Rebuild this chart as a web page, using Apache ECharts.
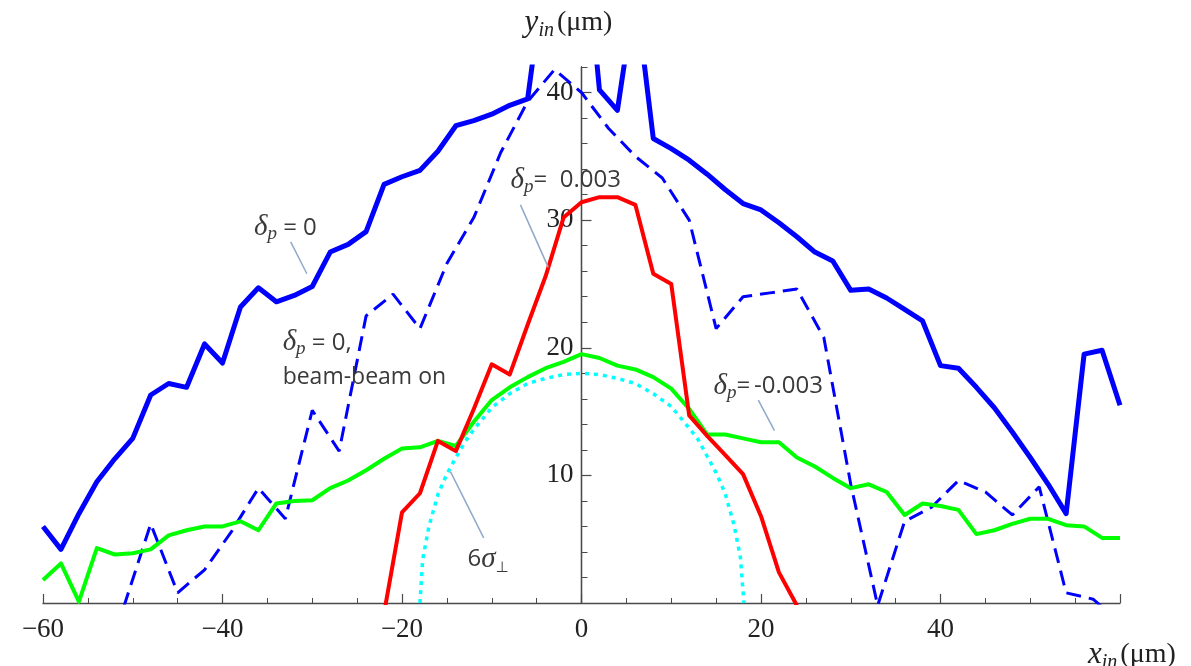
<!DOCTYPE html>
<html>
<head>
<meta charset="utf-8">
<script src="https://cdn.jsdelivr.net/npm/echarts@6/dist/echarts.min.js"></script>
<style>
html,body{margin:0;padding:0;background:#fff;}
#c{width:1191px;height:666px;}
</style>
</head>
<body>
<div id="c"></div>
<script>
// ---------------- data ----------------
const xTickValues = [-60, -40, -20, 0, 20, 40];
const yTickValues = [10, 20, 30, 40];

// x grid (step 2) used by the δp=0 and δp=-0.003 curves
const xsEven = [-60,-58,-56,-54,-52,-50,-48,-46,-44,-42,-40,-38,-36,-34,-32,-30,-28,-26,-24,-22,-20,-18,-16,-14,-12,-10,-8,-6,-4,-2,0,2,4,6,8,10,12,14,16,18,20,22,24,26,28,30,32,34,36,38,40,42,44,46,48,50,52,54,56,58,60];

// δp = 0 (solid blue)
const solidBlueY = [6.0,4.2,7.0,9.5,11.3,12.9,16.3,17.2,16.9,20.3,18.8,23.2,24.7,23.6,24.1,24.8,27.5,28.1,29.1,32.8,33.4,33.9,35.4,37.4,37.8,38.3,39.0,39.5,50,58,55,40.2,38.6,48,36.4,35.6,34.7,33.6,32.4,31.3,30.8,29.8,28.7,27.5,26.8,24.5,24.6,23.9,23.0,22.1,18.6,18.4,16.9,15.3,13.4,11.4,9.3,7.0,19.5,19.8,15.5];

// δp = -0.003 (green)
const greenY = [1.8,3.1,0.1,4.3,3.8,3.9,4.2,5.3,5.7,6.0,6.0,6.4,5.7,7.8,8.0,8.05,9.0,9.6,10.4,11.3,12.1,12.2,12.7,12.3,14.2,15.9,16.9,17.7,18.4,18.9,19.5,19.2,18.6,18.3,17.7,16.8,15.2,13.2,13.2,12.9,12.6,12.6,11.4,10.7,9.8,9.0,9.3,8.7,6.9,7.8,7.6,7.3,5.4,5.7,6.2,6.6,6.6,6.1,6.0,5.1,5.1];

// δp = 0.003 (red)
const redX = [-22,-20,-18,-16,-14,-12,-10,-8,-6,-4,-2,0,2,4,6,8,10,12,14,16,18,20,22,24];
const redY = [-0.8,7.1,8.6,12.7,11.9,15.2,18.7,17.9,21.8,25.6,30.2,31.4,31.8,31.8,31.2,25.8,25.0,14.7,13.1,11.6,10.1,6.8,2.4,-0.2];

// δp = 0, beam-beam on (dashed blue), step 3
const dashX = [-51,-48,-45,-42,-39,-36,-33,-30,-27,-24,-21,-18,-15,-12,-9,-6,-3,0,3,6,9,12,15,18,21,24,27,30,33,36,39,42,45,48,51,54,57,60];
const dashY = [-0.3,6.2,0.8,2.6,5.6,9.0,6.6,15.1,11.9,22.5,24.2,21.5,26.6,30.2,35.3,39.3,41.8,40.0,37.2,35.0,33.3,30.0,21.5,24.0,24.3,24.6,20.8,9.3,-0.2,6.4,7.5,9.6,8.7,6.9,9.1,0.8,0.3,-1.5];

// 6σ⊥ (cyan dotted)
const cyanX = [-18,-17.7,-17,-16,-15,-14,-13,-12,-10,-8,-6,-4,-2,0,2,4,6,8,10,12,13,14,15,16,17,17.7,18.1];
const cyanY = [0,3.4,6.0,8.5,10.1,11.4,12.6,13.6,15.3,16.4,17.2,17.6,17.9,18.0,17.9,17.6,17.2,16.4,15.4,13.7,12.8,11.5,10.2,8.6,6.1,3.6,0];

// annotation texts and their anchors (data coordinates)
const annTexts = ['{d|δ}{p|p}{t| = 0}', '{d|δ}{p|p}{t| = 0,}', '{b|beam-beam on}', '{d|δ}{p|p}{t|=  0.003}', '{d|δ}{p|p}{t|=\u2009-0.003}', '{t|6}{g|σ}{q|⊥}'];
const annAnchors = [[-36.5,29.4],[-33.3,20.4],[-33.3,17.7],[-7.9,33.1],[14.7,17.0],[-12.7,3.4]];
const leaderLines = [
  [[-32.4,28.3],[-30.6,25.8]],
  [[-6.8,31.2],[-3.7,26.3]],
  [[19.7,15.9],[21.5,13.5]],
  [[-14.6,10.3],[-10.9,5.1]]
];

// ---------------- chart ----------------
const serif = "'Liberation Serif', 'Times New Roman', serif";
const sans = "'Open Sans', sans-serif";
const axisColor = '#4a4a4a';
const labelColor = '#222';
const annColor = '#3a3a3a';
const pairs = (xs, ys) => xs.map((x, i) => [x, ys[i]]);

const nameRich = {
  i: {fontFamily: serif, fontStyle: 'italic', fontSize: 31, lineHeight: 36, color: labelColor},
  s: {fontFamily: serif, fontStyle: 'italic', fontSize: 20, lineHeight: 19, verticalAlign: 'bottom', color: labelColor},
  n: {fontFamily: serif, fontSize: 28, lineHeight: 36, color: labelColor}
};

const gridLeft = 43, gridRight = 71;
const xMin = -60, xMax = 60;
// place the y axis at x = 0 (moved inward from the grid's left edge)
const gridW = 1191 - gridLeft - gridRight;
const yAxisOffset = -gridW * (0 - xMin) / (xMax - xMin);

const chart = echarts.init(document.getElementById('c'), null, {renderer: 'canvas'});

const lineBase = {type: 'line', symbol: 'none', showSymbol: false, clip: true, silent: true, animation: false, emphasis: {disabled: true}};

const option = {
  animation: false,
  backgroundColor: '#ffffff',
  textStyle: {fontFamily: serif},
  grid: {left: gridLeft, right: gridRight, top: 67, bottom: 63, outerBoundsMode: 'none'},
  xAxis: {
    type: 'value', min: xMin, max: xMax, interval: 20,
    name: '{i|x}{s|in} {n|(μm)}', nameLocation: 'end', nameGap: -32,
    nameTextStyle: {rich: nameRich, align: 'left', verticalAlign: 'top', padding: [34, 0, 0, 0]},
    axisLine: {onZero: false, lineStyle: {color: axisColor, width: 1.3}},
    axisTick: {inside: true, length: 9, lineStyle: {color: axisColor, width: 1.2}},
    minorTick: {show: true, splitNumber: 4, length: 5, lineStyle: {color: axisColor, width: 1}},
    splitLine: {show: false}, minorSplitLine: {show: false},
    axisLabel: {
      formatter: v => xTickValues.includes(v) ? (v < 0 ? '\u2212' + (-v) : String(v)) : '',
      fontFamily: serif, fontSize: 27, color: labelColor, margin: 13
    }
  },
  yAxis: [
    {
      type: 'value', min: 0, max: 42, interval: 2, position: 'left', offset: yAxisOffset,
      name: '{i|y}{s|in} {n|(μm)}', nameLocation: 'end', nameGap: 26,
      nameTextStyle: {rich: nameRich, align: 'center', verticalAlign: 'bottom', padding: [0, 26, 0, 0]},
      axisLine: {show: true, onZero: false, lineStyle: {color: axisColor, width: 1.3}},
      axisTick: {show: true, inside: true, length: 6, lineStyle: {color: axisColor, width: 1}},
      axisLabel: {show: false},
      splitLine: {show: false}
    },
    {
      type: 'value', min: 0, max: 42, interval: 10, position: 'left', offset: yAxisOffset,
      axisLine: {show: true, onZero: false, lineStyle: {color: axisColor, width: 1.3}},
      axisTick: {show: true, inside: true, length: 10, customValues: yTickValues, lineStyle: {color: axisColor, width: 1.2}},
      axisLabel: {
        customValues: yTickValues,
        formatter: v => yTickValues.includes(v) ? String(v) : '',
        fontFamily: serif, fontSize: 27, color: labelColor, margin: 8
      },
      splitLine: {show: false}
    }
  ],
  series: [
    Object.assign({}, lineBase, {name: 'δp=0', data: pairs(xsEven, solidBlueY), z: 3,
      lineStyle: {color: '#0000ff', width: 5, join: 'round'}}),
    Object.assign({}, lineBase, {name: 'δp=0, beam-beam on', data: pairs(dashX, dashY), z: 3,
      lineStyle: {color: '#0000ff', width: 3, type: [15, 8]}}),
    Object.assign({}, lineBase, {name: '6σ⊥', data: pairs(cyanX, cyanY), z: 2,
      lineStyle: {color: '#00ffff', width: 3.5, type: [4, 5]}}),
    Object.assign({}, lineBase, {name: 'δp=-0.003', data: pairs(xsEven, greenY), z: 3,
      lineStyle: {color: '#00ff00', width: 4, join: 'round'}}),
    Object.assign({}, lineBase, {name: 'δp=0.003', data: pairs(redX, redY), z: 4,
      lineStyle: {color: '#ff0000', width: 4, join: 'round'}})
  ]
};
chart.setOption(option);

// annotations placed from data coordinates
const annRich = {
  d: {fontFamily: serif, fontStyle: 'italic', fontSize: 29, lineHeight: 32, color: annColor},
  p: {fontFamily: serif, fontStyle: 'italic', fontSize: 19, lineHeight: 16, verticalAlign: 'bottom', color: annColor},
  t: {fontFamily: sans, fontSize: 24, lineHeight: 32, color: annColor},
  b: {fontFamily: sans, fontSize: 23, lineHeight: 32, color: annColor},
  g: {fontFamily: serif, fontStyle: 'italic', fontSize: 29, lineHeight: 32, color: annColor},
  q: {fontFamily: "'DejaVu Sans', sans-serif", fontSize: 15, lineHeight: 15, verticalAlign: 'bottom', color: annColor}
};
const toPx = p => chart.convertToPixel({xAxisIndex: 0, yAxisIndex: 0}, p);
const graphics = [];
annTexts.forEach((txt, i) => {
  const p = toPx(annAnchors[i]);
  graphics.push({
    type: 'text', silent: true, z: 10,
    style: {x: p[0], y: p[1], text: txt, rich: annRich, fill: annColor,
      align: 'left', verticalAlign: 'middle', textAlign: 'left', textVerticalAlign: 'middle'}
  });
});
leaderLines.forEach(l => {
  const a = toPx(l[0]), b = toPx(l[1]);
  graphics.push({
    type: 'line', silent: true, z: 10,
    shape: {x1: a[0], y1: a[1], x2: b[0], y2: b[1]},
    style: {stroke: '#8ea9c9', lineWidth: 1.5}
  });
});
chart.setOption({graphic: graphics});
</script>
</body>
</html>
